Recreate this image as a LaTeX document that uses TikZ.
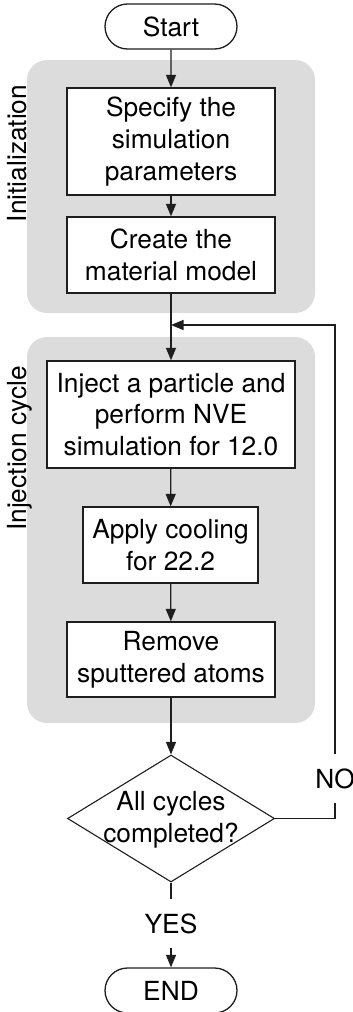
\documentclass[tikz,border=0pt]{standalone}
\usepackage{fontspec}
\setmainfont{TeX Gyre Heros}
\usetikzlibrary{arrows.meta,shapes.misc,shapes.geometric}
\definecolor{groupgray}{RGB}{220,220,220}
\definecolor{ink}{RGB}{30,30,30}
\begin{document}
\begin{tikzpicture}[
  x=1pt, y=-1pt,
  font=\fontsize{26.3}{31.6}\selectfont,
  line width=1.3pt, draw=ink,
  >={Triangle[length=12.5pt,width=10pt]},
  group/.style={fill=groupgray, draw=none, rounded corners=20pt},
  grouplabel/.style={rotate=90, anchor=base, inner sep=0pt},
  stepbox/.style={draw, fill=white, rectangle, align=center, inner sep=0pt},
  terminal/.style={draw, fill=white, rounded rectangle, minimum width=132pt,
                   minimum height=45pt, inner sep=0pt},
  decision/.style={draw, fill=white, diamond, minimum width=207pt,
                   minimum height=127pt, inner sep=0pt, line width=1.1pt},
  branch/.style={inner xsep=0pt, inner ysep=0pt, minimum height=47pt},
  flow/.style={->}
]
\useasboundingbox (0,0) rectangle (353,1012);

% grouping panels
\fill[group] (27,60) rectangle (315,313);
\fill[group] (27,337) rectangle (315,723);
\node[grouplabel] (lblinit) at (27,153.5) {Initialization};
\node[grouplabel] (lblcycle) at (27,448.5) {Injection cycle};

% steps
\node[terminal] (start) at (171,26.5) {Start};
\node[stepbox, minimum width=208pt, minimum height=107pt] (spec) at (171,141.5)
  {Specify the\\simulation\\parameters};
\node[stepbox, minimum width=208pt, minimum height=76pt] (create) at (171,255)
  {Create the\\material model};
\node[stepbox, minimum width=248pt, minimum height=107pt] (inject) at (171,414.5)
  {Inject a particle and\\perform NVE\\simulation for 12.0};
\node[stepbox, minimum width=175pt, minimum height=76pt] (apply) at (170.5,545)
  {Apply cooling\\for 22.2};
\node[stepbox, minimum width=208pt, minimum height=75pt] (remove) at (171,659.5)
  {Remove\\sputtered atoms};
\node[decision] (dec) at (171,818.5) {};
\node[align=center, inner sep=0pt] (dectext) at ([yshift=-1pt]dec.center) {All cycles\\completed?};
\node[terminal] (endn) at (171,990.5) {END};

% branch labels
\node[branch] (no) at (335,778.5) {NO};
\node[branch] (yes) at (171,923.5) {YES};
\coordinate (merge) at (171,325);

% connectors
\draw[flow] (start) -- (spec);
\draw[flow] (spec) -- (create);
\draw[flow] (create) -- (inject);
\draw[flow] (inject) -- (apply);
\draw[flow] (apply) -- (remove);
\draw[flow] (remove) -- (dec);
\draw (dec.east) -| (no.south);
\draw[flow] (no.north) |- (merge);
\draw (dec.south) -- (yes.north);
\draw[flow] (yes.south) -- (endn.north);
\end{tikzpicture}
\end{document}
